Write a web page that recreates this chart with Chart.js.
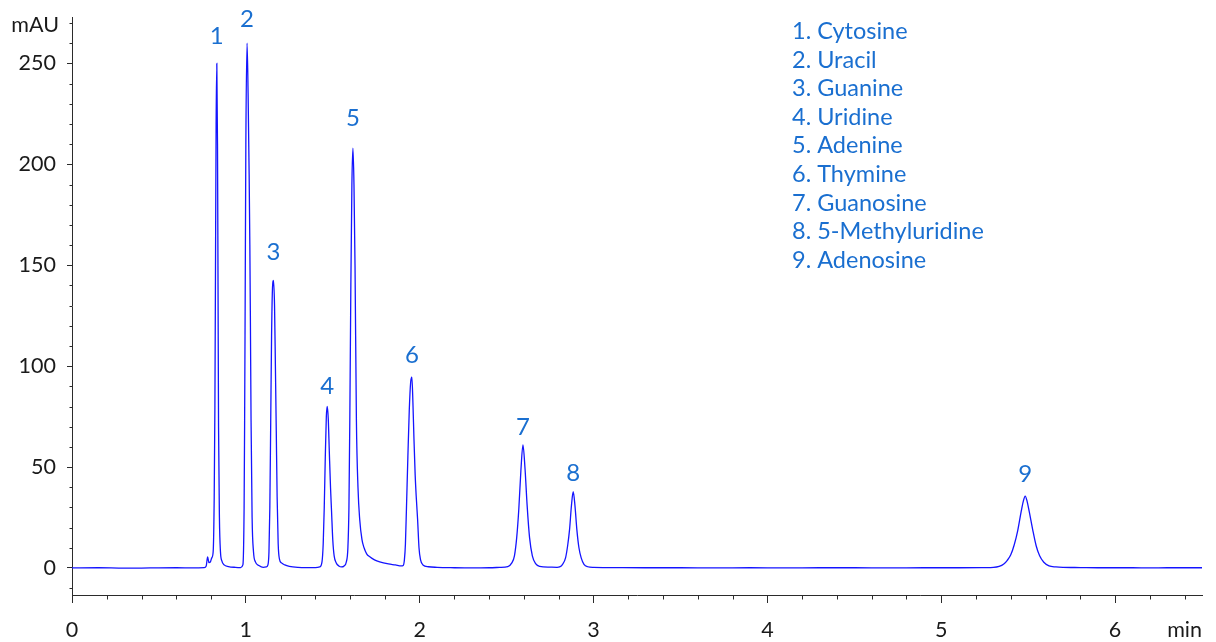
<!DOCTYPE html>
<html>
<head>
<meta charset="utf-8">
<script src="https://cdn.jsdelivr.net/npm/chart.js@4.4.1/dist/chart.umd.min.js"></script>
<style>
  html, body { margin: 0; padding: 0; background: #fff; }
  #wrap { width: 1216px; height: 642px; }
</style>
</head>
<body>
<div id="wrap"><canvas id="c" width="1216" height="642"></canvas></div>
<script>
// ---- Data ----
const timeMin = [
  0.00, 0.15, 0.30, 0.45, 0.60, 0.70, 0.760,
  0.772, 0.780, 0.788, 0.796, 0.804,
  0.812, 0.818, 0.822, 0.825, 0.829, 0.833, 0.837, 0.840, 0.843, 0.848, 0.854, 0.862, 0.875, 0.900, 0.940, 0.970,
  0.983, 0.990, 0.993, 0.996, 1.000, 1.007, 1.013, 1.019, 1.023, 1.026, 1.030, 1.036, 1.044, 1.055, 1.075, 1.100,
  1.118, 1.127, 1.133, 1.138, 1.143, 1.148, 1.153, 1.159, 1.165, 1.170, 1.175, 1.180, 1.186, 1.193, 1.205, 1.224, 1.250, 1.300, 1.350, 1.400,
  1.425, 1.438, 1.445, 1.451, 1.457, 1.463, 1.468, 1.474, 1.480, 1.487, 1.493, 1.500, 1.508, 1.520, 1.535, 1.550,
  1.565, 1.578, 1.587, 1.593, 1.598, 1.604, 1.610, 1.616, 1.622, 1.628, 1.636, 1.645, 1.655, 1.668, 1.680, 1.695, 1.713, 1.740, 1.770, 1.820, 1.860, 1.894,
  1.905, 1.912, 1.918, 1.924, 1.932, 1.940, 1.948, 1.955, 1.961, 1.967, 1.974, 1.981, 1.988, 1.996, 2.005, 2.019, 2.050, 2.100,
  2.200, 2.300, 2.400, 2.460, 2.507, 2.530, 2.545, 2.558, 2.570, 2.582, 2.594, 2.606, 2.618, 2.632, 2.648, 2.668, 2.690, 2.750,
  2.790, 2.805, 2.822, 2.839, 2.851, 2.862, 2.873, 2.883, 2.893, 2.904, 2.916, 2.929, 2.945, 2.967, 3.000,
  3.100, 3.300, 3.500, 3.700, 3.900, 4.100, 4.300, 4.500, 4.700, 4.900, 5.100, 5.250,
  5.300, 5.333, 5.360, 5.380, 5.400, 5.420, 5.440, 5.460, 5.472, 5.483, 5.494, 5.506, 5.526, 5.546, 5.566, 5.590, 5.620, 5.660, 5.700,
  5.800, 5.900, 6.000, 6.100, 6.200, 6.300, 6.400, 6.500
];
const absorbanceMAU = [
  0.0, 0.1, -0.1, 0.0, 0.1, 0.0, 0.2,
  1.0, 5.5, 2.6, 3.0, 5.0,
  8, 35, 80, 140, 220, 250, 210, 140, 70, 25, 8, 3.5, 1.5, 0.7, 0.3, 0.2,
  1.5, 30, 73, 130, 210, 260, 235, 195, 160, 125, 73, 25, 8, 3, 1.2, 0.3,
  0.5, 1.5, 8, 30, 72, 115, 138, 142.5, 130, 100, 68, 35, 12, 4.5, 2.5, 1.5, 0.8, 0.3, 0.2, 0.2,
  0.5, 3, 12, 30, 55, 75, 80, 74, 58, 40, 28, 14, 6, 2.5, 1.0, 0.5,
  1.0, 3, 10, 30, 73, 140, 190, 208, 190, 150, 73, 40, 24, 14, 10, 7, 5.5, 4, 3, 2, 1.5, 1.0,
  1.2, 4, 12, 30, 55, 78, 92, 94.5, 82, 64, 46, 34, 24, 10, 4, 1.5, 0.6, 0.3,
  0.1, 0.0, 0.1, 0.3, 0.7, 2.5, 6, 15, 29, 48, 61, 49, 31, 15, 6, 2, 0.8, 0.4,
  0.3, 0.5, 1.8, 5, 11, 19, 31, 37.8, 31, 19, 10, 5, 1.8, 0.6, 0.3,
  0.2, 0.1, 0.1, 0.0, 0.1, 0.0, 0.1, 0.1, 0.0, 0.1, 0.1, 0.2,
  0.3, 0.8, 2.0, 3.8, 6.5, 11.5, 18.5, 28, 33, 35.6, 33, 28, 19, 11, 6, 2.8, 1.0, 0.5, 0.3,
  0.2, 0.1, 0.1, 0.1, 0.0, 0.1, 0.1, 0.1
];
const peakNumbers = ['1', '2', '3', '4', '5', '6', '7', '8', '9'];
const peakTimes = [0.833, 1.007, 1.159, 1.468, 1.616, 1.955, 2.594, 2.883, 5.483];
const compoundNames = ['Cytosine', 'Uracil', 'Guanine', 'Uridine', 'Adenine', 'Thymine', 'Guanosine', '5-Methyluridine', 'Adenosine'];
const xMajorTicks = [0, 1, 2, 3, 4, 5, 6];
const yMajorTicks = [0, 50, 100, 150, 200, 250];
const xUnit = 'min';
const yUnit = 'mAU';

// ---- Styles ----
const FONT = 'Lato, "Open Sans", sans-serif';
const AXIS_COLOR = '#2b2b2b';
const TEXT_COLOR = '#1a1a1a';
const LABEL_BLUE = '#1a6fd0';
const LINE_BLUE = '#1414ff';
const labelOffsets = [27, 24, 28, 20, 30, 22, 18, 18, 22];

const points = timeMin.map((t, i) => ({ x: t, y: absorbanceMAU[i] }));

function apexAt(t) {
  let best = 0, bestD = Infinity;
  timeMin.forEach((tt, i) => { const d = Math.abs(tt - t); if (d < bestD) { bestD = d; best = i; } });
  return absorbanceMAU[best];
}

const decorPlugin = {
  id: 'decor',
  afterDraw(chart) {
    const { ctx, chartArea, scales } = chart;
    const xs = scales.x, ys = scales.y;
    ctx.save();
    // minor ticks
    ctx.strokeStyle = AXIS_COLOR;
    ctx.lineWidth = 1;
    ctx.beginPath();
    for (let k = -10; k <= 270; k += 10) {
      if (k % 50 === 0) continue;
      const py = Math.round(ys.getPixelForValue(k)) + 0.5;
      ctx.moveTo(chartArea.left, py);
      ctx.lineTo(chartArea.left - 2.5, py);
    }
    for (let k = 1; k <= 32; k++) {
      if (k % 5 === 0) continue;
      const px = Math.round(xs.getPixelForValue(k * 0.2)) + 0.5;
      ctx.moveTo(px, chartArea.bottom);
      ctx.lineTo(px, chartArea.bottom + 4.5);
    }
    ctx.stroke();

    // units
    ctx.fillStyle = TEXT_COLOR;
    ctx.font = '21.5px ' + FONT;
    ctx.textBaseline = 'middle';
    ctx.textAlign = 'right';
    ctx.fillText(yUnit, 59, 25);
    ctx.fillText(xUnit, chartArea.right, 630);

    // peak labels
    ctx.fillStyle = LABEL_BLUE;
    ctx.font = '24px ' + FONT;
    ctx.textAlign = 'center';
    peakTimes.forEach((t, i) => {
      const px = xs.getPixelForValue(t);
      const py = ys.getPixelForValue(apexAt(t)) - labelOffsets[i];
      ctx.fillText(peakNumbers[i], px, py);
    });

    // compound list
    ctx.textAlign = 'left';
    ctx.font = '23.5px ' + FONT;
    compoundNames.forEach((name, i) => {
      ctx.fillText(peakNumbers[i] + '. ' + name, 792, 31.5 + i * 28.6);
    });
    ctx.restore();
  }
};

new Chart(document.getElementById('c'), {
  type: 'line',
  data: {
    datasets: [{
      data: points,
      borderColor: LINE_BLUE,
      borderWidth: 1.3,
      pointRadius: 0,
      fill: false,
      cubicInterpolationMode: 'monotone'
    }]
  },
  options: {
    responsive: false,
    animation: false,
    devicePixelRatio: 1,
    layout: { padding: { top: 17, right: 14, left: 0, bottom: 0 } },
    plugins: { legend: { display: false }, tooltip: { enabled: false } },
    scales: {
      x: {
        type: 'linear',
        min: 0,
        max: 6.5,
        afterBuildTicks(scale) { scale.ticks = xMajorTicks.map(v => ({ value: v })); },
        afterFit(scale) { scale.height = 47; scale.paddingLeft = 0; scale.paddingRight = 0; },
        ticks: { color: TEXT_COLOR, font: { family: FONT, size: 21.5 }, padding: 14, maxRotation: 0, autoSkip: false },
        grid: { display: true, drawOnChartArea: false, drawTicks: true, tickLength: 8, color: AXIS_COLOR },
        border: { display: true, color: AXIS_COLOR, width: 1 }
      },
      y: {
        type: 'linear',
        min: -13.4,
        max: 273,
        afterBuildTicks(scale) { scale.ticks = yMajorTicks.map(v => ({ value: v })); },
        afterFit(scale) { scale.width = 72; scale.paddingTop = 0; scale.paddingBottom = 0; },
        ticks: { color: TEXT_COLOR, font: { family: FONT, size: 21.5 }, padding: 11, autoSkip: false },
        grid: { display: true, drawOnChartArea: false, drawTicks: true, tickLength: 5, color: AXIS_COLOR },
        border: { display: true, color: AXIS_COLOR, width: 1 }
      }
    }
  },
  plugins: [decorPlugin]
});
</script>
</body>
</html>
